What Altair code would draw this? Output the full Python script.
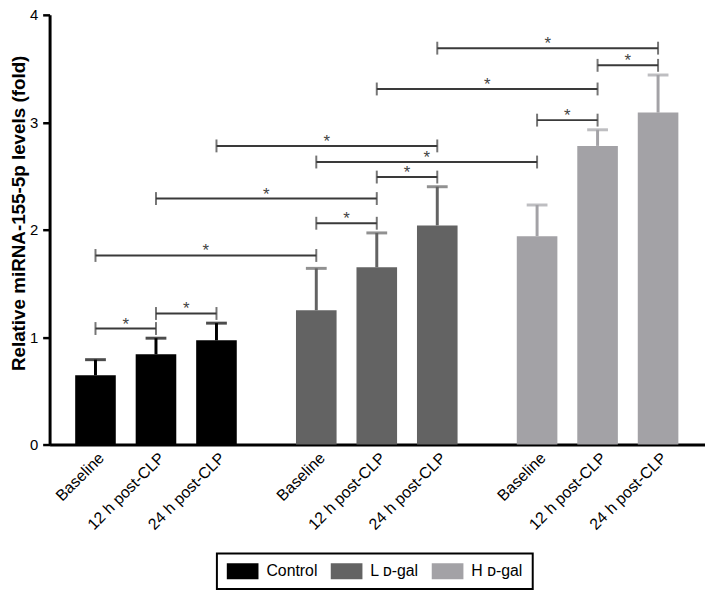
import altair as alt
import pandas as pd

# ---------------- data ----------------
groups = ["Control", "L ᴅ-gal", "H ᴅ-gal"]
times = ["Baseline", "12 h post-CLP", "24 h post-CLP"]

control_mean = [0.645, 0.84, 0.97]
control_upper = [0.79, 0.99, 1.13]
ld_mean = [1.25, 1.65, 2.04]
ld_upper = [1.64, 1.97, 2.40]
hd_mean = [1.94, 2.78, 3.09]
hd_upper = [2.23, 2.93, 3.44]

# significance brackets: bar index (0..8) from / to, and height
bracket_from = [0, 1, 0, 3, 1, 4, 3, 2, 6, 4, 7, 5]
bracket_to = [1, 2, 3, 4, 4, 5, 6, 5, 7, 7, 8, 8]
bracket_level = [1.08, 1.22, 1.76, 2.06, 2.29, 2.49, 2.63, 2.78, 3.02, 3.31, 3.53, 3.69]

colors = ["#000000", "#636363", "#a3a2a6"]

# ---------------- layout helpers ----------------
GROUP_STEP = 3.65  # distance between groups, in bar slots
means = [control_mean, ld_mean, hd_mean]
uppers = [control_upper, ld_upper, hd_upper]

rows = []
for g, gname in enumerate(groups):
    for t, tname in enumerate(times):
        rows.append({
            "pos": g * GROUP_STEP + t,
            "group": gname,
            "time": tname,
            "mean": means[g][t],
            "upper": uppers[g][t],
        })
bars_df = pd.DataFrame(rows)
positions = list(bars_df["pos"])
label_for = list(bars_df["time"])

br_rows, end_rows = [], []
for a, b, lv in zip(bracket_from, bracket_to, bracket_level):
    x1, x2 = positions[a], positions[b]
    br_rows.append({"x1": x1, "x2": x2, "mid": (x1 + x2) / 2, "level": lv, "star": "*"})
    end_rows.append({"x": x1, "level": lv})
    end_rows.append({"x": x2, "level": lv})
br_df = pd.DataFrame(br_rows)
end_df = pd.DataFrame(end_rows)

expr = "''"
for p, lab in reversed(list(zip(positions, label_for))):
    expr = f"abs(datum.value - {p}) < 0.01 ? '{lab}' : ({expr})"

FONT = "Liberation Sans"
xscale = alt.Scale(domain=[-0.677, 9.994], nice=False, zero=False)
yscale = alt.Scale(domain=[0, 4], nice=False)

color = alt.Color(
    "group:N",
    scale=alt.Scale(domain=groups, range=colors),
    legend=alt.Legend(
        orient="none", legendX=169, legendY=544, direction="horizontal",
        title=None, symbolType="M-1,-1H3V1H-1Z", symbolSize=256,
        symbolStrokeWidth=0, labelFontSize=16, labelOffset=24,
        columnPadding=13, padding=10, strokeColor="black",
        labelFont=FONT, labelColor="black",
    ),
)

x_axis = alt.Axis(
    values=positions, labelExpr=expr, labelAngle=-45, labelAlign="right",
    labelBaseline="top", ticks=False, domainWidth=3, domainColor="black",
    labelFontSize=16, labelPadding=5, grid=False, title=None,
    labelColor="black", labelFont=FONT, labelOverlap=False,
)
y_axis = alt.Axis(
    values=[0, 1, 2, 3, 4], format="d", title="Relative miRNA-155-5p levels (fold)",
    titleFontSize=19, titleFontWeight="bold", titleFont=FONT, titleColor="black",
    titleX=-21, titleY=200, titleAlign="center", titleBaseline="bottom",
    grid=False, tickSize=7, tickWidth=2.5, tickColor="black",
    domainWidth=3, domainColor="black", labelFontSize=15, labelPadding=5,
    labelColor="black", labelFont=FONT,
)

base = alt.Chart(bars_df)
bars = base.mark_bar(size=41).encode(
    x=alt.X("pos:Q", scale=xscale, axis=x_axis),
    y=alt.Y("mean:Q", scale=yscale, axis=y_axis),
    color=color,
)
err = base.mark_rule(strokeWidth=3).encode(
    x="pos:Q", y="mean:Q", y2="upper:Q", color=alt.Color("group:N", legend=None)
)
caps = base.mark_tick(orient="horizontal", size=21, thickness=3).encode(
    x="pos:Q", y="upper:Q", color=alt.Color("group:N", legend=None)
)

BR_COLOR = "#3a3a3a"
br_lines = alt.Chart(br_df).mark_rule(strokeWidth=2, color=BR_COLOR).encode(
    x="x1:Q", x2="x2:Q", y="level:Q"
)
br_ends = alt.Chart(end_df).mark_tick(orient="vertical", size=13, thickness=2, color=BR_COLOR).encode(
    x="x:Q", y="level:Q"
)
stars = alt.Chart(br_df).mark_text(
    fontSize=17, font=FONT, color="#444444", baseline="alphabetic", align="center", dy=1
).encode(x="mid:Q", y="level:Q", text="star:N")

chart = alt.layer(bars, err, caps, br_lines, br_ends, stars).properties(
    width=662, height=434,
    autosize=alt.AutoSizeParams(type="none"),
    padding={"left": 42, "top": 4, "right": 0, "bottom": 144},
).configure_view(stroke=None).configure_legend(strokeWidth=2)

chart.save("out.html", embed_options={"renderer": "svg", "actions": False})
